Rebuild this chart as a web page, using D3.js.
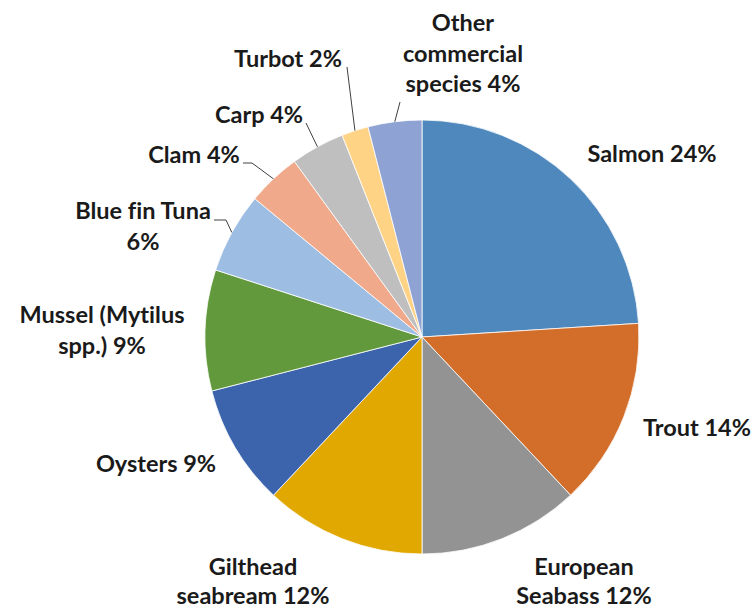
<!DOCTYPE html>
<html><head><meta charset="utf-8">
<script src="https://cdn.jsdelivr.net/npm/d3@7"></script>
<style>body{margin:0;background:#fff}svg{display:block}text{font-variant-ligatures:none;font-feature-settings:"liga" 0,"dlig" 0}</style>
</head><body>
<script>
const categories = ["Salmon","Trout","European Seabass","Gilthead seabream","Oysters","Mussel (Mytilus spp.)","Blue fin Tuna","Clam","Carp","Turbot","Other commercial species"];
const values = [24,14,12,12,9,9,6,4,4,2,4];
const colors = ["#4E88BC","#D26D2A","#939393","#E0A800","#3C64AD","#62993C","#9DBDE2","#F0A98A","#BFBFBF","#FFD385","#8EA3D3"];
// label text lines
const labelLines = [
  ["Salmon 24%"],["Trout 14%"],["European","Seabass 12%"],["Gilthead","seabream 12%"],
  ["Oysters 9%"],["Mussel (Mytilus","spp.) 9%"],["Blue fin Tuna","6%"],["Clam 4%"],
  ["Carp 4%"],["Turbot 2%"],["Other","commercial","species 4%"]
];
// layout: label center x, first baseline y, line gap, leader start point(s) (null = none)
const labelLayout = [
  {x:652,y:162,gap:30.5,lead:null},
  {x:697,y:436,gap:30.5,lead:null},
  {x:584,y:575,gap:28.5,lead:null},
  {x:253,y:575,gap:28.5,lead:null},
  {x:156,y:472,gap:30.5,lead:null},
  {x:102,y:323,gap:30.5,lead:null},
  {x:143,y:219,gap:30.5,lead:[[214,220],[226,220]]},
  {x:194,y:163,gap:30.5,lead:[[243,163],[252,163]]},
  {x:259,y:123,gap:30.5,lead:[[306,123]]},
  {x:288,y:67,gap:30.5,lead:[[347,67]]},
  {x:463,y:31,gap:30.5,lead:[[400,102]]}
];

const W=755,H=610, cx=422, cy=337, R=217;
const svg=d3.select("body").append("svg").attr("width",W).attr("height",H);
const g=svg.append("g").attr("transform",`translate(${cx},${cy})`);
const pie=d3.pie().sort(null).value(d=>d)(values);
const arc=d3.arc().innerRadius(0).outerRadius(R);
g.selectAll("path.slice").data(pie).join("path").attr("class","slice")
  .attr("d",arc).attr("fill",(d,i)=>colors[i]).attr("stroke","#fff").attr("stroke-width",0.8);

// leader lines
pie.forEach((d,i)=>{
  const L=labelLayout[i]; if(!L.lead) return;
  const a=(d.startAngle+d.endAngle)/2;
  const end=[cx+R*Math.sin(a), cy-R*Math.cos(a)];
  const pts=L.lead.concat([end]);
  svg.append("path").attr("d",d3.line()(pts)).attr("fill","none").attr("stroke","#404040").attr("stroke-width",1);
});

const lab=svg.append("g").attr("font-family","Lato, 'Open Sans', sans-serif").attr("font-weight","bold")
  .attr("font-size",23.5).attr("fill","#1a1a1a").attr("text-anchor","middle");
labelLines.forEach((lines,i)=>{
  const L=labelLayout[i];
  const t=lab.append("text").attr("x",L.x).attr("y",L.y);
  lines.forEach((s,j)=>t.append("tspan").attr("x",L.x).attr("dy",j?L.gap:0).text(s));
});
</script>
</body></html>
